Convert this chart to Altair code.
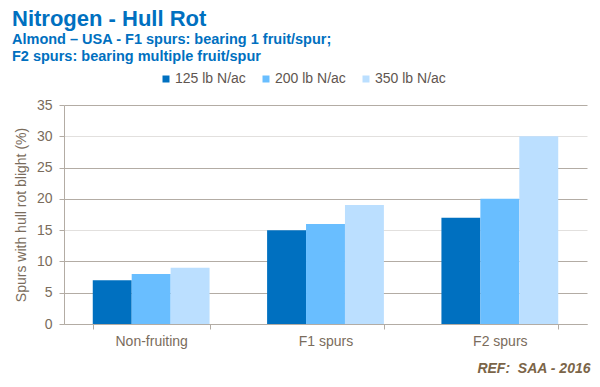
import altair as alt
import pandas as pd

categories = ["Non-fruiting", "F1 spurs", "F2 spurs"]
rates = ["125 lb N/ac", "200 lb N/ac", "350 lb N/ac"]
v125 = [7, 15, 17]
v200 = [8, 16, 20]
v350 = [9, 19, 30]
colors = ["#0070C0", "#69BEFF", "#BBDFFF"]
y_ticks = [0, 5, 10, 15, 20, 25, 30, 35]

rows = []
for rate, vals in zip(rates, [v125, v200, v350]):
    for cat, v in zip(categories, vals):
        rows.append({"category": cat, "rate": rate, "value": v})
df = pd.DataFrame(rows)

FONT = "Liberation Sans"
LABEL = "#7A6C5C"
GRID = "#B3ACA4"

chart = alt.Chart(df).mark_bar().encode(
    x=alt.X(
        "category:N",
        sort=categories,
        scale=alt.Scale(paddingInner=0.33, paddingOuter=0.165),
        axis=alt.Axis(
            title="REF:\u00a0 SAA - 2016",
            titleAnchor="end",
            titleAlign="right",
            titleBaseline="alphabetic",
            titleX=526,
            titleY=48,
            titleFontSize=14,
            titleFontWeight="bold",
            titleFontStyle="italic",
            titleColor="#7B6548",
            titleFont=FONT,
            labelAngle=0,
            labelFontSize=14,
            labelColor=LABEL,
            labelFont=FONT,
            labelPadding=5,
            tickBand="extent",
            tickSize=5,
            tickColor=GRID,
            domainColor=GRID,
            grid=False,
        ),
    ),
    xOffset=alt.XOffset("rate:N", sort=rates, scale=alt.Scale(paddingInner=0, paddingOuter=0)),
    y=alt.Y(
        "value:Q",
        scale=alt.Scale(domain=[0, 35], nice=False),
        axis=alt.Axis(
            title="Spurs with hull rot blight (%)",
            values=y_ticks,
            titleFontSize=14,
            titleFontWeight="normal",
            titleColor=LABEL,
            titleFont=FONT,
            titlePadding=8,
            labelFontSize=14,
            labelColor=LABEL,
            labelFont=FONT,
            labelPadding=7,
            tickSize=5,
            tickColor=GRID,
            domainColor=GRID,
            grid=True,
            gridColor={
                "condition": {"test": "datum.value === 15 || datum.value === 30", "value": "#E2E0DE"},
                "value": GRID,
            },
        ),
    ),
    color=alt.Color(
        "rate:N",
        sort=rates,
        scale=alt.Scale(domain=rates, range=colors),
        legend=alt.Legend(
            title=None,
            orient="none",
            direction="horizontal",
            legendX=95,
            legendY=-33,
            symbolType="square",
            symbolSize=49,
            symbolStrokeWidth=0,
            labelFontSize=14,
            labelColor="#5F5650",
            labelFont=FONT,
            labelOffset=2,
            columnPadding=13,
        ),
    ),
).properties(
    width=523,
    height=219,
    autosize=alt.AutoSizeParams(type="none"),
    padding={"left": 56, "top": 97, "right": 5, "bottom": 55},
    title=alt.Title(
        text="Nitrogen - Hull Rot",
        subtitle=["Almond \u2013 USA - F1 spurs: bearing 1 fruit/spur;", "F2 spurs: bearing multiple fruit/spur"],
        anchor="start",
        frame="group",
        dx=-52,
        offset=8,
        font=FONT,
        fontSize=22,
        fontWeight="bold",
        color="#0070C0",
        subtitleFont=FONT,
        subtitleFontSize=14.5,
        subtitleFontWeight="bold",
        subtitleColor="#0070C0",
        subtitleLineHeight=16.5,
        subtitlePadding=2,
    ),
).configure_view(stroke=None)

chart.save("out.html", embed_options={"renderer": "svg", "actions": False})
